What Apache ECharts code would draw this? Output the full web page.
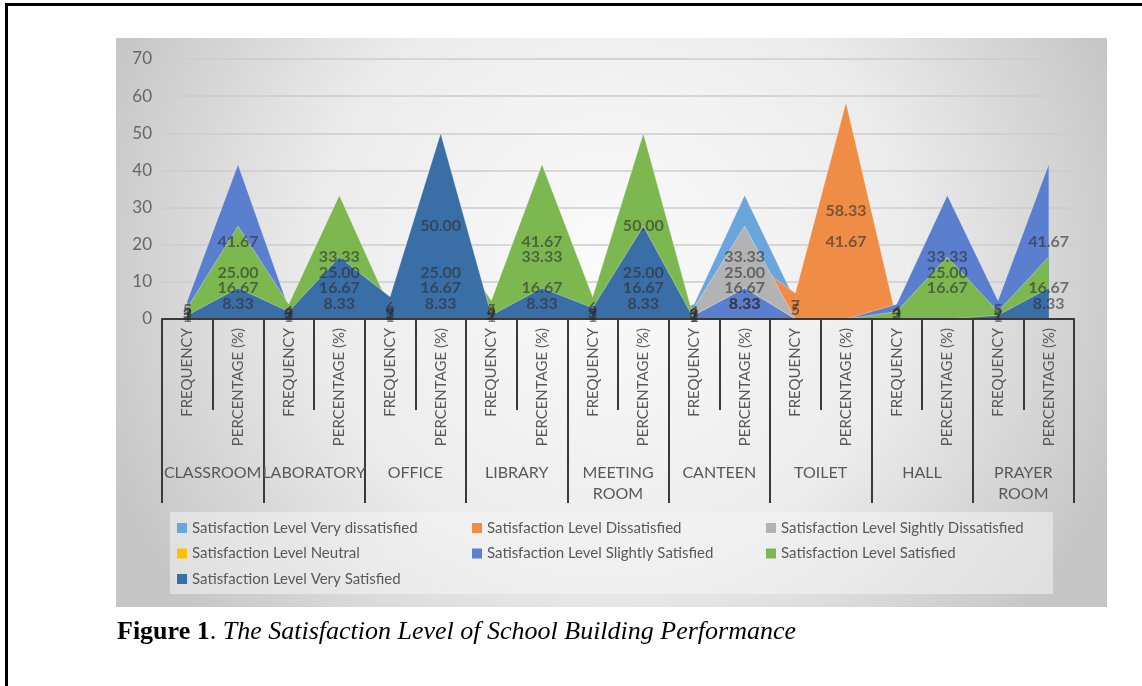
<!DOCTYPE html>
<html>
<head>
<meta charset="utf-8">
<script src="https://cdn.jsdelivr.net/npm/echarts@6/dist/echarts.min.js"></script>
<style>
  html, body { margin: 0; padding: 0; background: #fff; }
  #wrap { position: relative; width: 1142px; height: 686px; overflow: hidden; }
  #frame { position: absolute; left: 5px; top: 3px; right: -10px; bottom: -10px;
           border-top: 3px solid #000; border-left: 3px solid #000; }
  #chart { position: absolute; left: 0; top: 0; width: 1142px; height: 686px; }
  #caption { position: absolute; left: 117px; top: 618px; white-space: nowrap;
             font: 26px/26px "Liberation Serif", "Times New Roman", serif; color: #000; }
</style>
</head>
<body>
<div id="wrap">
  <div id="frame"></div>
  <div id="chart"></div>
  <div id="caption"><b>Figure 1</b>. <i>The Satisfaction Level of School Building Performance</i></div>
</div>
<script>
// rooms and the two rows under each room
const buildings = ['CLASSROOM', 'LABORATORY', 'OFFICE', 'LIBRARY', 'MEETING\nROOM',
  'CANTEEN', 'TOILET', 'HALL', 'PRAYER\nROOM']
const rowTypes = ['FREQUENCY', 'PERCENTAGE (%)']

const levelNames = [
  'Satisfaction Level Very dissatisfied',
  'Satisfaction Level Dissatisfied',
  'Satisfaction Level Sightly Dissatisfied',
  'Satisfaction Level Neutral',
  'Satisfaction Level Slightly Satisfied',
  'Satisfaction Level Satisfied',
  'Satisfaction Level Very Satisfied'
]
const levelColors = ['#6aa6dc', '#ef8c45', '#b3b3b3', '#ffc000', '#5b7fcf', '#7cb84f', '#3a6ea6']

// frequency, percentage pairs per room
const veryDissatisfied     = [0, 0,     0, 0,     0, 0,     0, 0,     0, 0,     4, 33.33, 5, 41.67, 0, 0,     0, 0]
const dissatisfied         = [0, 0,     0, 0,     0, 0,     0, 0,     0, 0,     2, 16.67, 7, 58.33, 0, 0,     0, 0]
const slightlyDissatisfied = [0, 0,     0, 0,     0, 0,     0, 0,     0, 0,     3, 25.00, 0, 0,     0, 0,     0, 0]
const neutral              = [2, 16.67, 1, 8.33,  1, 8.33,  2, 16.67, 1, 8.33,  1, 8.33,  0, 0,     3, 25.00, 0, 0]
const slightlySatisfied    = [5, 41.67, 3, 25.00, 2, 16.67, 4, 33.33, 2, 16.67, 1, 8.33,  0, 0,     4, 33.33, 5, 41.67]
const satisfied            = [3, 25.00, 4, 33.33, 3, 25.00, 5, 41.67, 6, 50.00, 0, 0,     0, 0,     2, 16.67, 2, 16.67]
const verySatisfied        = [1, 8.33,  2, 16.67, 6, 50.00, 1, 8.33,  3, 25.00, 0, 0,     0, 0,     0, 0,     1, 8.33]

const levelValues = [veryDissatisfied, dissatisfied, slightlyDissatisfied, neutral,
  slightlySatisfied, satisfied, verySatisfied]

const categories = []
buildings.forEach(() => rowTypes.forEach(r => categories.push(r)))

const chart = echarts.init(document.getElementById('chart'))

// later levels sit in front, like the excel area chart
const areaSeries = levelNames.map((name, k) => ({
  name: name,
  type: 'line',
  data: levelValues[k],
  symbol: 'none',
  silent: true,
  itemStyle: { color: levelColors[k] },
  lineStyle: { color: 'rgba(255,255,255,0.35)', width: 1 },
  areaStyle: { color: levelColors[k], opacity: 1 },
  z: 2 + k
}))

// Excel puts area labels half way up the area
const labelSeries = levelNames.map((name, k) => ({
  name: 'label ' + k,
  type: 'scatter',
  symbolSize: 1,
  silent: true,
  itemStyle: { color: 'transparent' },
  data: levelValues[k].map(v => v > 0 ? { value: v / 2, raw: v } : '-'),
  label: {
    show: true,
    position: 'inside',
    fontFamily: 'Lato',
    fontSize: 16,
    fontWeight: 'bold',
    color: 'rgba(45,45,45,0.75)',
    formatter: p => p.dataIndex % 2 === 0 ? String(p.data.raw) : p.data.raw.toFixed(2)
  },
  z: 20
}))

const legendCommon = {
  orient: 'vertical',
  top: 519,
  padding: 0,
  icon: 'rect',
  itemWidth: 10,
  itemHeight: 10,
  itemGap: 7.5,
  itemStyle: { borderWidth: 0 },
  textStyle: { fontFamily: 'Lato', fontSize: 15, color: '#595959', lineHeight: 18 }
}

const option = {
  animation: false,
  graphic: [
    {
      type: 'rect', z: -10,
      shape: { x: 116, y: 38, width: 991, height: 569 },
      style: {
        fill: {
          type: 'radial', x: 0.5, y: 0.4, r: 0.95,
          colorStops: [
            { offset: 0, color: '#fbfbfb' },
            { offset: 0.55, color: '#ececec' },
            { offset: 1, color: '#c6c6c6' }
          ]
        }
      }
    },
    {
      type: 'rect', z: -9,
      shape: { x: 170, y: 512, width: 883, height: 82 },
      style: { fill: 'rgba(244,244,244,0.55)' }
    }
  ],
  grid: { left: 162, right: 68, top: 59, bottom: 367 },
  legend: [
    Object.assign({}, legendCommon, { left: 177, data: [levelNames[0], levelNames[3], levelNames[6]] }),
    Object.assign({}, legendCommon, { left: 472, data: [levelNames[1], levelNames[4]] }),
    Object.assign({}, legendCommon, { left: 766, data: [levelNames[2], levelNames[5]] })
  ],
  xAxis: [
    {
      type: 'category',
      data: categories,
      boundaryGap: true,
      axisLine: { show: true, lineStyle: { color: '#3a3a3a', width: 2 } },
      axisTick: { show: true, interval: 0, length: 91, lineStyle: { color: '#3a3a3a', width: 2 } },
      axisLabel: { interval: 0, rotate: 90, margin: 9, fontFamily: 'Lato', fontSize: 15, color: '#595959' },
      z: 15
    },
    {
      type: 'category',
      position: 'bottom',
      data: buildings,
      boundaryGap: true,
      axisLine: { show: false },
      axisTick: { show: true, interval: 0, length: 184, lineStyle: { color: '#3a3a3a', width: 2 } },
      axisLabel: { interval: 0, margin: 143, fontFamily: 'Lato', fontSize: 16, lineHeight: 21,
        color: '#595959', hideOverlap: false },
      z: 15
    }
  ],
  yAxis: {
    type: 'value',
    min: 0, max: 70, interval: 10,
    axisLine: { show: false },
    axisTick: { show: false },
    axisLabel: { margin: 10, fontFamily: 'Lato', fontSize: 17, color: '#666' },
    splitLine: { lineStyle: { color: '#cdcdcd', width: 1.5 } }
  },
  series: areaSeries.concat(labelSeries)
}

chart.setOption(option)
</script>
</body>
</html>
